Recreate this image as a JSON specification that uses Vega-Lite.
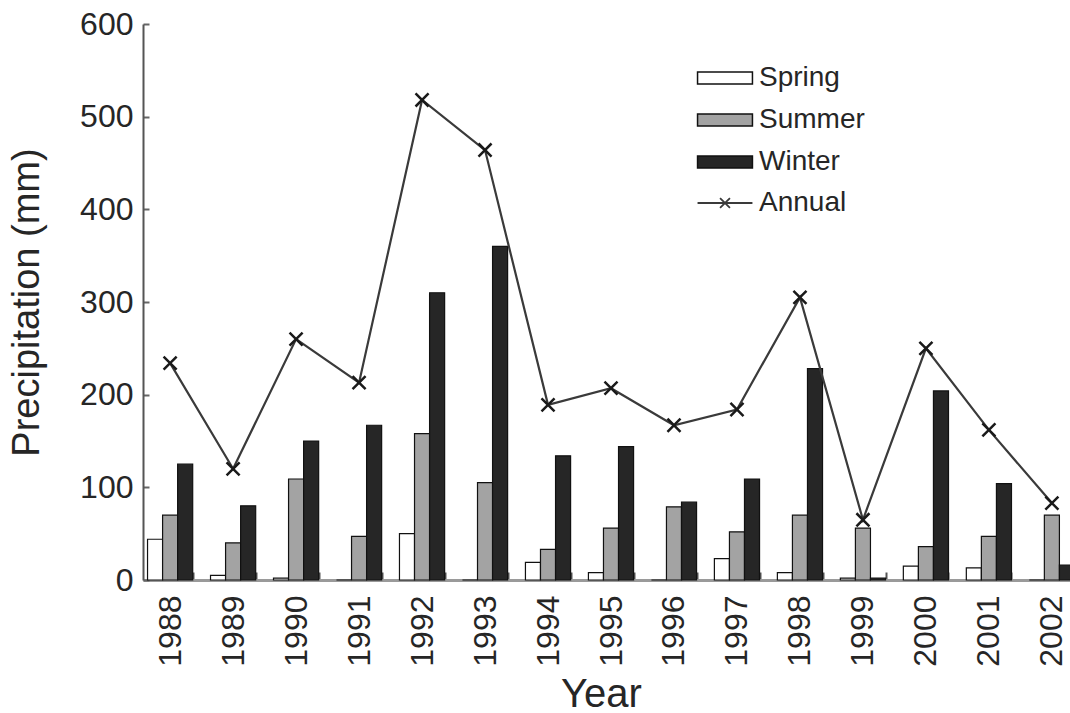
{
  "$schema": "https://vega.github.io/schema/vega-lite/v6.json",
  "width": 927,
  "height": 556,
  "autosize": {"type": "none"},
  "padding": {"left": 143, "top": 24, "right": 0, "bottom": 133},
  "background": "white",
  "config": {"view": {"stroke": null}, "font": "Liberation Sans"},
  "datasets": {
    "seasons": [
      {"year": 1988, "season": "Spring", "value": 44}, {"year": 1988, "season": "Summer", "value": 70}, {"year": 1988, "season": "Winter", "value": 125},
      {"year": 1989, "season": "Spring", "value": 5}, {"year": 1989, "season": "Summer", "value": 40}, {"year": 1989, "season": "Winter", "value": 80},
      {"year": 1990, "season": "Spring", "value": 2}, {"year": 1990, "season": "Summer", "value": 109}, {"year": 1990, "season": "Winter", "value": 150},
      {"year": 1991, "season": "Spring", "value": 0}, {"year": 1991, "season": "Summer", "value": 47}, {"year": 1991, "season": "Winter", "value": 167},
      {"year": 1992, "season": "Spring", "value": 50}, {"year": 1992, "season": "Summer", "value": 158}, {"year": 1992, "season": "Winter", "value": 310},
      {"year": 1993, "season": "Spring", "value": 0}, {"year": 1993, "season": "Summer", "value": 105}, {"year": 1993, "season": "Winter", "value": 360},
      {"year": 1994, "season": "Spring", "value": 19}, {"year": 1994, "season": "Summer", "value": 33}, {"year": 1994, "season": "Winter", "value": 134},
      {"year": 1995, "season": "Spring", "value": 8}, {"year": 1995, "season": "Summer", "value": 56}, {"year": 1995, "season": "Winter", "value": 144},
      {"year": 1996, "season": "Spring", "value": 0}, {"year": 1996, "season": "Summer", "value": 79}, {"year": 1996, "season": "Winter", "value": 84},
      {"year": 1997, "season": "Spring", "value": 23}, {"year": 1997, "season": "Summer", "value": 52}, {"year": 1997, "season": "Winter", "value": 109},
      {"year": 1998, "season": "Spring", "value": 8}, {"year": 1998, "season": "Summer", "value": 70}, {"year": 1998, "season": "Winter", "value": 228},
      {"year": 1999, "season": "Spring", "value": 2}, {"year": 1999, "season": "Summer", "value": 56}, {"year": 1999, "season": "Winter", "value": 2},
      {"year": 2000, "season": "Spring", "value": 15}, {"year": 2000, "season": "Summer", "value": 36}, {"year": 2000, "season": "Winter", "value": 204},
      {"year": 2001, "season": "Spring", "value": 13}, {"year": 2001, "season": "Summer", "value": 47}, {"year": 2001, "season": "Winter", "value": 104},
      {"year": 2002, "season": "Spring", "value": 0}, {"year": 2002, "season": "Summer", "value": 70}, {"year": 2002, "season": "Winter", "value": 16}
    ],
    "annual": [
      {"year": 1988, "series": "Annual", "value": 234}, {"year": 1989, "series": "Annual", "value": 120}, {"year": 1990, "series": "Annual", "value": 260},
      {"year": 1991, "series": "Annual", "value": 213}, {"year": 1992, "series": "Annual", "value": 518}, {"year": 1993, "series": "Annual", "value": 464},
      {"year": 1994, "series": "Annual", "value": 189}, {"year": 1995, "series": "Annual", "value": 207}, {"year": 1996, "series": "Annual", "value": 167},
      {"year": 1997, "series": "Annual", "value": 184}, {"year": 1998, "series": "Annual", "value": 305}, {"year": 1999, "series": "Annual", "value": 65},
      {"year": 2000, "series": "Annual", "value": 250}, {"year": 2001, "series": "Annual", "value": 162}, {"year": 2002, "series": "Annual", "value": 83}
    ]
  },
  "resolve": {"scale": {"color": "independent"}, "legend": {"color": "independent"}},
  "layer": [
    {
      "data": {"name": "seasons"},
      "mark": {"type": "bar", "stroke": "#111111", "strokeWidth": 1.2},
      "encoding": {
        "x": {
          "field": "year", "type": "ordinal", "title": "Year",
          "scale": {"paddingInner": 0.283, "paddingOuter": 0.072, "range": [0, 936]},
          "axis": {
            "labelAngle": 270, "labelAlign": "right", "labelBaseline": "middle",
            "labelFontSize": 32, "labelColor": "#262626", "labelPadding": 23,
            "tickBand": "extent", "tickSize": -8, "tickColor": "#555555", "tickWidth": 2,
            "domainColor": "#9a9a9a", "domainWidth": 3,
            "titleFontSize": 40, "titleFontWeight": "normal", "titleColor": "#262626",
            "titlePadding": 8, "titleX": 458
          }
        },
        "xOffset": {"field": "season", "type": "nominal", "sort": ["Spring", "Summer", "Winter"], "scale": {"paddingInner": 0}},
        "y": {
          "field": "value", "type": "quantitative", "title": "Precipitation (mm)",
          "scale": {"domain": [0, 600]},
          "axis": {
            "values": [0, 100, 200, 300, 400, 500, 600], "grid": false,
            "tickSize": -6, "tickColor": "#666666", "tickWidth": 2,
            "domainColor": "#555555", "domainWidth": 2,
            "labelFontSize": 32, "labelColor": "#262626", "labelPadding": 16,
            "titleFontSize": 38, "titleFontWeight": "normal", "titleColor": "#262626", "titlePadding": 33
          }
        },
        "color": {
          "field": "season", "type": "nominal",
          "scale": {"domain": ["Spring", "Summer", "Winter"], "range": ["#ffffff", "#a3a3a3", "#262626"]},
          "legend": {
            "orient": "none", "legendX": 566, "legendY": 38, "title": null, "padding": 0,
            "labelFontSize": 28, "labelColor": "#262626", "labelOffset": 18,
            "symbolSize": 900, "rowPadding": 12,
            "symbolType": "M-1.83,-0.4H1.83V0.4H-1.83Z",
            "symbolStrokeColor": "#111111", "symbolStrokeWidth": 1.5
          }
        }
      }
    },
    {
      "data": {"name": "annual"},
      "mark": {"type": "line", "strokeWidth": 2.2},
      "encoding": {
        "x": {"field": "year", "type": "ordinal"},
        "y": {"field": "value", "type": "quantitative"},
        "color": {
          "field": "series", "type": "nominal",
          "scale": {"domain": ["Annual"], "range": ["#3a3a3a"]},
          "legend": {
            "orient": "none", "legendX": 566, "legendY": 163, "title": null, "padding": 0,
            "labelFontSize": 28, "labelColor": "#262626", "labelOffset": 18,
            "symbolSize": 900,
            "symbolType": "M-1.83,0H1.83M-0.33,-0.33L0.33,0.33M-0.33,0.33L0.33,-0.33",
            "symbolFillColor": "transparent", "symbolStrokeColor": "#222222", "symbolStrokeWidth": 1.8
          }
        }
      }
    },
    {
      "data": {"name": "annual"},
      "mark": {"type": "point", "shape": "M-1,-1L1,1M-1,1L1,-1", "filled": false, "stroke": "#1a1a1a", "strokeWidth": 2.5, "size": 170, "opacity": 1},
      "encoding": {
        "x": {"field": "year", "type": "ordinal"},
        "y": {"field": "value", "type": "quantitative"}
      }
    },
    {
      "mark": {"type": "rule", "color": "#9a9a9a", "strokeWidth": 3},
      "encoding": {"y": {"datum": 600}}
    }
  ]
}
